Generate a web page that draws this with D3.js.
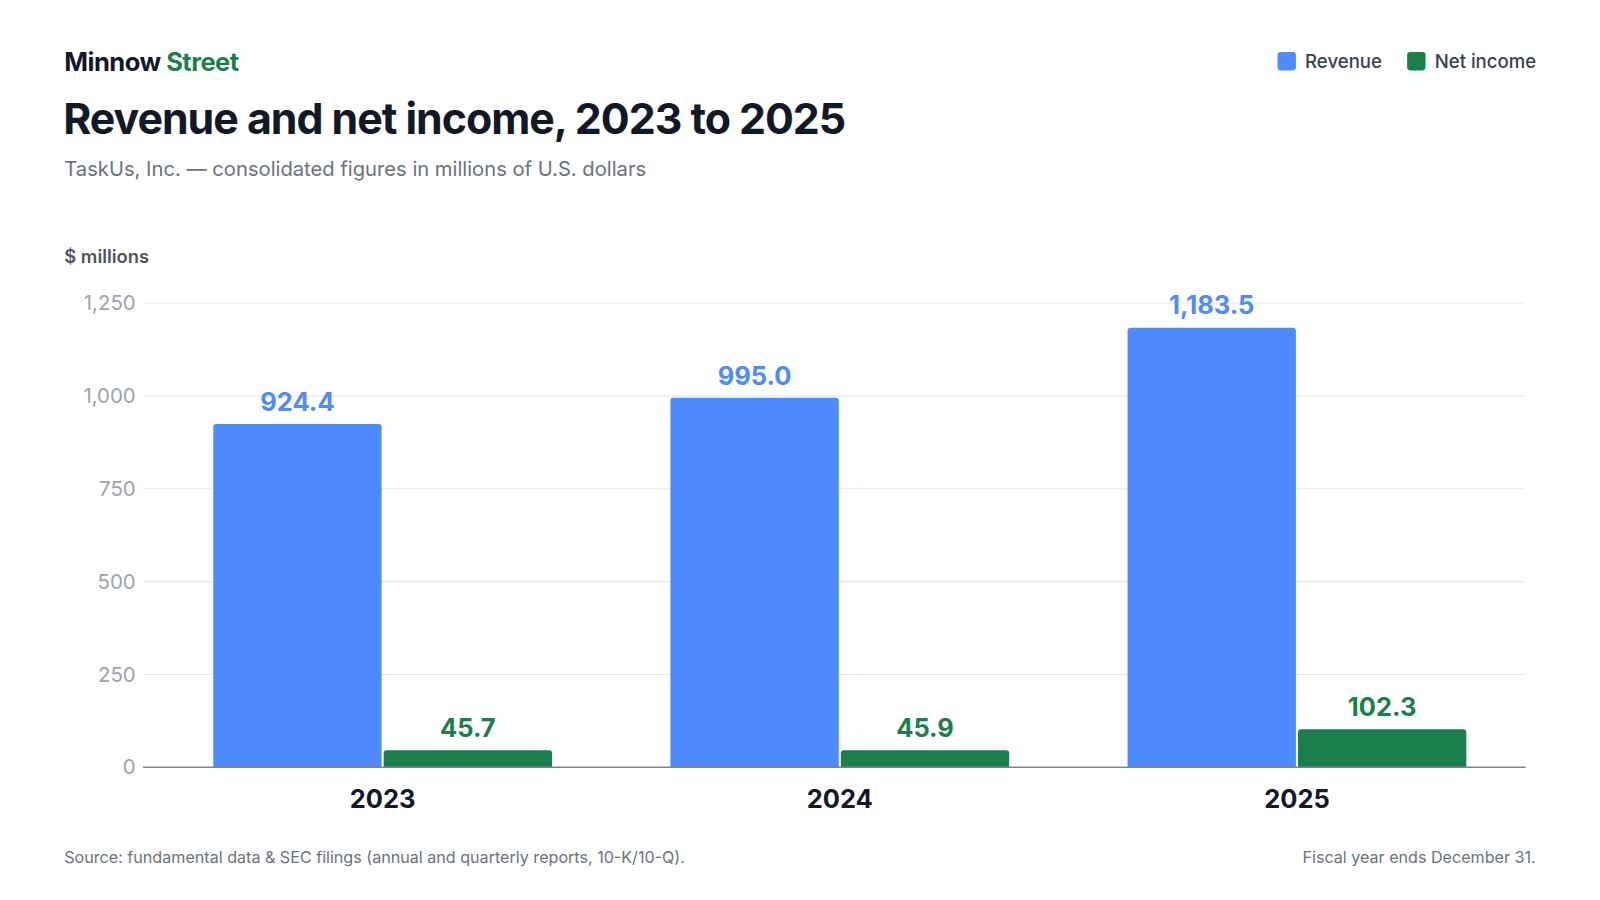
<!DOCTYPE html>
<html><head><meta charset="utf-8">
<script src="https://cdn.jsdelivr.net/npm/d3@7"></script>
<style>body{margin:0;background:#fff;font-family:Inter,"Noto Sans",sans-serif;}</style>
</head><body>
<svg width="1600" height="900"></svg>
<script>
const years = ['2023', '2024', '2025'];
const series = ['Revenue', 'Net income'];
const revenue = [924.4, 995.0, 1183.5];
const netIncome = [45.7, 45.9, 102.3];
const yTicks = [0, 250, 500, 750, 1000, 1250];
const colors = ['#4d8bff', '#1a7f4b'];

// layout measured on a 1568-wide view; scale up to 1600
const svg = d3.select('svg').append('g').attr('transform', `scale(${1600 / 1568})`);
const fmt = d3.format(',.1f');

svg.append('text').attr('x', 63).attr('y', 70).attr('font-size', 25).attr('font-weight', 700)
  .attr('fill', '#111827').attr('letter-spacing', -0.5)
  .html('Minnow <tspan fill="#1a7f4b">Street</tspan>');
svg.append('text').attr('x', 62).attr('y', 131).attr('font-size', 42).attr('font-weight', 700)
  .attr('fill', '#111827').attr('letter-spacing', -1).text('Revenue and net income, 2023 to 2025');
svg.append('text').attr('x', 63).attr('y', 172).attr('font-size', 19.8).attr('fill', '#6b7280')
  .text('TaskUs, Inc. — consolidated figures in millions of U.S. dollars');
svg.append('text').attr('x', 63).attr('y', 258).attr('font-size', 18).attr('font-weight', 600)
  .attr('fill', '#4b5563').text('$ millions');

// legend
const legX = [1252, 1379];
series.forEach((s, i) => {
  svg.append('rect').attr('x', legX[i]).attr('y', 51).attr('width', 18).attr('height', 18)
    .attr('rx', 3).attr('fill', colors[i]);
  svg.append('text').attr('x', legX[i] + 27).attr('y', 67).attr('font-size', 18.2)
    .attr('font-weight', 500).attr('fill', '#374151').text(s);
});

const y = d3.scaleLinear().domain([0, 1250]).range([752, 297]);
const x0 = d3.scaleBand().domain(years).range([151, 1495]);
const x1 = d3.scaleBand().domain(series).range([58, 390]).paddingInner(0.012);

svg.append('g').selectAll('line').data(yTicks.slice(1)).join('line')
  .attr('x1', 140).attr('x2', 1495).attr('y1', d => y(d)).attr('y2', d => y(d))
  .attr('stroke', '#e5e7eb').attr('stroke-width', 1);
svg.append('g').selectAll('text').data(yTicks).join('text')
  .attr('x', 133).attr('y', d => y(d) + 7).attr('text-anchor', 'end')
  .attr('font-size', 20).attr('fill', '#9ca3af').text(d => d3.format(',')(d));

const rows = years.map((yr, i) => ({ yr, vals: [revenue[i], netIncome[i]] }));
const g = svg.append('g').selectAll('g').data(rows).join('g')
  .attr('transform', d => `translate(${x0(d.yr)},0)`);

function topRounded(x, yTop, w, h, r) {
  return `M${x},${yTop + h}V${yTop + r}Q${x},${yTop} ${x + r},${yTop}H${x + w - r}Q${x + w},${yTop} ${x + w},${yTop + r}V${yTop + h}Z`;
}
g.selectAll('path').data(d => d.vals.map((v, i) => ({ v, i }))).join('path')
  .attr('fill', d => colors[d.i])
  .attr('d', d => topRounded(x1(series[d.i]), y(d.v), x1.bandwidth(), y(0) - y(d.v), 3));
g.selectAll('text').data(d => d.vals.map((v, i) => ({ v, i }))).join('text')
  .attr('x', d => x1(series[d.i]) + x1.bandwidth() / 2).attr('y', d => y(d.v) - 13)
  .attr('text-anchor', 'middle').attr('font-size', 25).attr('font-weight', 700)
  .attr('fill', d => colors[d.i]).text(d => fmt(d.v));

svg.append('line').attr('x1', 140).attr('x2', 1495).attr('y1', 752).attr('y2', 752)
  .attr('stroke', '#7b8595').attr('stroke-width', 1.5);

svg.append('g').selectAll('text').data(years).join('text')
  .attr('x', d => x0(d) + x0.bandwidth() / 2).attr('y', 792).attr('text-anchor', 'middle')
  .attr('font-size', 25).attr('font-weight', 700).attr('fill', '#111827').text(d => d);

svg.append('text').attr('x', 63).attr('y', 846).attr('font-size', 15.8).attr('fill', '#6b7280')
  .text('Source: fundamental data & SEC filings (annual and quarterly reports, 10-K/10-Q).');
svg.append('text').attr('x', 1505).attr('y', 846).attr('text-anchor', 'end').attr('font-size', 15.8)
  .attr('fill', '#6b7280').text('Fiscal year ends December 31.');
</script>
</body></html>
